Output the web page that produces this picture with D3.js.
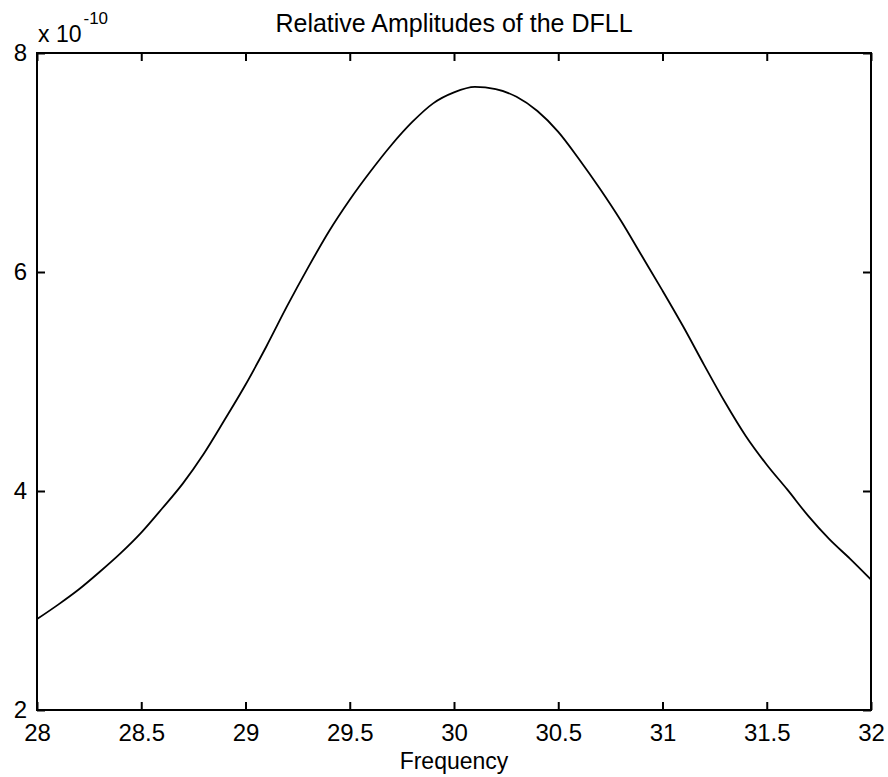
<!DOCTYPE html>
<html>
<head>
<meta charset="utf-8">
<script src="https://cdn.jsdelivr.net/npm/d3@7"></script>
<style>
  body { margin: 0; background: #fff; }
  text { font-family: "Liberation Sans", Arial, sans-serif; fill: #000; }
</style>
</head>
<body>
<div id="chart"></div>
<script>
// frequency (x) and relative amplitude (y, in units of 1e-10)
var freq = [28.0, 28.1, 28.2, 28.3, 28.4, 28.5, 28.6, 28.7, 28.8, 28.9,
            29.0, 29.1, 29.2, 29.3, 29.4, 29.5, 29.6, 29.7, 29.8, 29.9,
            30.0, 30.1, 30.2, 30.3, 30.4, 30.5, 30.6, 30.7, 30.8, 30.9,
            31.0, 31.1, 31.2, 31.3, 31.4, 31.5, 31.6, 31.7, 31.8, 31.9, 32.0];
var amp = [2.83, 2.96, 3.10, 3.26, 3.43, 3.62, 3.84, 4.07, 4.34, 4.65,
           4.97, 5.32, 5.69, 6.04, 6.37, 6.66, 6.92, 7.16, 7.37, 7.54,
           7.64, 7.69, 7.67, 7.60, 7.47, 7.28, 7.03, 6.76, 6.47, 6.15,
           5.83, 5.50, 5.15, 4.81, 4.50, 4.24, 4.01, 3.77, 3.56, 3.38, 3.19];
var xTicks = [28, 28.5, 29, 29.5, 30, 30.5, 31, 31.5, 32];
var yTicks = [2, 4, 6, 8];

var width = 888;
var height = 777;
var margin = {top: 53, right: 17, bottom: 67, left: 37};
var w = width - margin.left - margin.right;
var h = height - margin.top - margin.bottom;

var svg = d3.select('#chart')
    .append('svg')
    .attr('width', width)
    .attr('height', height);

var g = svg.append('g')
    .attr('transform', 'translate(' + margin.left + ',' + margin.top + ')');

var xscale = d3.scaleLinear().domain([28, 32]).range([0, w]);
var yscale = d3.scaleLinear().domain([2, 8]).range([h, 0]);

// box-style axes with inward ticks on all four sides
var tickLen = 8;
var xBottom = d3.axisBottom(xscale).tickValues(xTicks).tickSizeInner(-tickLen).tickSizeOuter(0)
    .tickPadding(14).tickFormat(d3.format(''));
var xTop = d3.axisTop(xscale).tickValues(xTicks).tickSizeInner(-tickLen).tickSizeOuter(0).tickFormat('');
var yLeft = d3.axisLeft(yscale).tickValues(yTicks).tickSizeInner(-tickLen).tickSizeOuter(0)
    .tickPadding(10).tickFormat(d3.format('d'));
var yRight = d3.axisRight(yscale).tickValues(yTicks).tickSizeInner(-tickLen).tickSizeOuter(0).tickFormat('');

g.append('g').attr('transform', 'translate(0,' + h + ')').call(xBottom);
g.append('g').call(xTop);
g.append('g').call(yLeft);
g.append('g').attr('transform', 'translate(' + w + ',0)').call(yRight);

g.selectAll('.domain').remove();
g.selectAll('.tick line').attr('stroke', '#000').attr('stroke-width', 2);
g.selectAll('.tick text').style('font-size', '24px').attr('fill', '#000');

g.append('rect')
    .attr('width', w)
    .attr('height', h)
    .attr('fill', 'none')
    .attr('stroke', '#000')
    .attr('stroke-width', 2);

// curve
var line = d3.line()
    .x(function(d, i) { return xscale(freq[i]); })
    .y(function(d) { return yscale(d); })
    .curve(d3.curveMonotoneX);

g.append('path')
    .datum(amp)
    .attr('fill', 'none')
    .attr('stroke', '#000')
    .attr('stroke-width', 1.8)
    .attr('d', line);

// title, axis label, exponent
svg.append('text')
    .attr('x', margin.left + w / 2)
    .attr('y', 32)
    .style('text-anchor', 'middle')
    .style('font-size', '25px')
    .text('Relative Amplitudes of the DFLL');

svg.append('text')
    .attr('x', margin.left + w / 2)
    .attr('y', 769)
    .style('text-anchor', 'middle')
    .style('font-size', '23px')
    .text('Frequency');

var expo = svg.append('text')
    .attr('x', 38)
    .attr('y', 42)
    .style('font-size', '23px');
expo.append('tspan').text('x 10');
expo.append('tspan').attr('dx', 2).attr('dy', -18).style('font-size', '17px').text('-10');
</script>
</body>
</html>
